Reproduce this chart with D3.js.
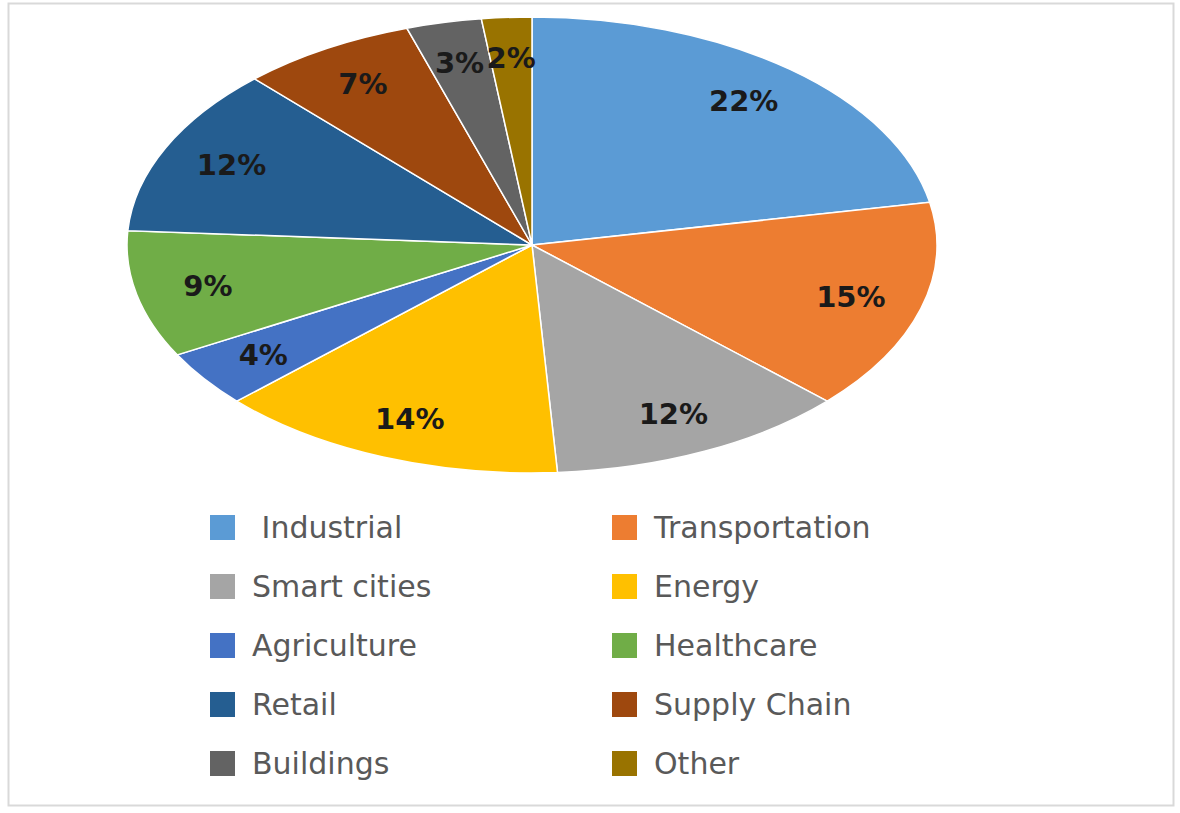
<!DOCTYPE html><html><head><meta charset="utf-8"><script src="https://cdn.jsdelivr.net/npm/d3@7"></script>
<style>body{margin:0;background:#fff}</style></head><body><svg id="c" width="1180" height="813"></svg>
<script>
const categories=[" Industrial","Transportation","Smart cities","Energy","Agriculture","Healthcare","Retail","Supply Chain","Buildings","Other"];
const values=[22,15,12,14,4,9,12,7,3,2];
const colors=["#5B9BD5","#ED7D31","#A5A5A5","#FFC000","#4472C4","#70AD47","#255E91","#9E480E","#636363","#997300"];
const svg=d3.select("#c");
svg.append("rect").attr("x",8.5).attr("y",3.5).attr("width",1165).attr("height",802).attr("fill","#fff").attr("stroke","#d9d9d9").attr("stroke-width",2);
const cx=532,cy=245,rx=405,ry=228;
const pie=d3.pie().sort(null).value(d=>d)(values);
const arc=d3.arc().innerRadius(0).outerRadius(1);
const g=svg.append("g").attr("transform",`translate(${cx},${cy}) scale(${rx},${ry})`);
g.selectAll("path").data(pie).join("path").attr("d",arc).attr("fill",(d,i)=>colors[i]).attr("stroke","#fff").attr("stroke-width",1.5).attr("vector-effect","non-scaling-stroke");
const la=d3.arc().innerRadius(0.82).outerRadius(0.82);
svg.append("g").selectAll("text").data(pie).join("text").each(function(d){const c=la.centroid(d);d3.select(this).attr("x",cx+c[0]*rx).attr("y",cy+c[1]*ry);})
 .attr("text-anchor","middle").attr("dominant-baseline","central").attr("font-family","DejaVu Sans").attr("font-weight","bold").attr("font-size",29).attr("fill","#1a1a1a").text(d=>d.data+"%");
const lg=svg.append("g");
categories.forEach((c,i)=>{const col=i%2,row=Math.floor(i/2);const x=col?612:210,y=527+row*59;
 lg.append("rect").attr("x",x).attr("y",y-12).attr("width",25).attr("height",25).attr("fill",colors[i]);
 lg.append("text").attr("x",x+42).attr("y",y).attr("dominant-baseline","central").attr("font-family","DejaVu Sans").attr("font-size",30).attr("fill","#595959").attr("xml:space","preserve").style("white-space","pre").text(c);});
</script></body></html>
